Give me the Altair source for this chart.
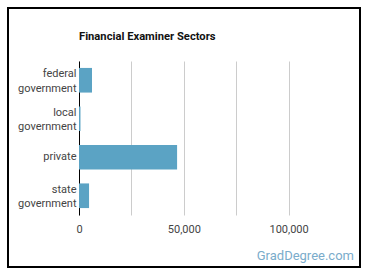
import altair as alt
import pandas as pd

sectors = ["federal government", "local government", "private", "state government"]
employees = [6200, 700, 46800, 4800]
grid_ticks = [0, 25000, 50000, 75000, 100000]

df = pd.DataFrame({"sector": sectors, "employees": employees})

base = alt.Chart(df)

bars = base.mark_bar(color="#5ba3c4").encode(
    y=alt.Y("sector:N", sort=sectors, title=None,
            scale=alt.Scale(paddingInner=0.36, paddingOuter=0.18),
            axis=alt.Axis(labelExpr="split(datum.label, ' ')", labelLineHeight=14.5,
                          labelOffset={"condition": {"test": "indexof(datum.label, ' ') < 0", "value": 0},
                                       "value": -6},
                          ticks=False, labelPadding=3, domainColor="#000000",
                          labelFontSize=11, labelColor="#444444", labelFont="Roboto")),
    x=alt.X("employees:Q", title=None,
            scale=alt.Scale(domain=[0, 125000], nice=False),
            axis=alt.Axis(values=grid_ticks,
                          labelExpr="datum.value % 50000 == 0 ? format(datum.value, ',') : ''",
                          ticks=False, domain=False, labelPadding=8, labelFlush=False,
                          gridColor="#cccccc", labelFontSize=11,
                          labelColor="#444444", labelFont="Roboto")),
)

border = alt.Chart(pd.DataFrame({"a": [0]})).mark_rect(
    fill=None, stroke="#000000", strokeWidth=2
).encode(x=alt.value(-71), x2=alt.value(281), y=alt.value(-53), y2=alt.value(206))

title = alt.Chart(pd.DataFrame({"t": ["Financial Examiner Sectors"]})).mark_text(
    align="left", baseline="middle", fontSize=11.2, fontWeight="bold", font="Roboto",
    color="#111111"
).encode(text="t:N", x=alt.value(0), y=alt.value(-24))

mark_text = alt.Chart(pd.DataFrame({"t": ["GradDegree.com"]})).mark_text(
    align="right", baseline="middle", fontSize=13, font="Roboto", color="#7aaccb"
).encode(text="t:N", x=alt.value(275), y=alt.value(195))

chart = alt.layer(bars, border, title, mark_text).properties(
    width=262, height=154,
    autosize=alt.AutoSizeParams(type="none"),
    padding={"left": 79, "top": 61, "right": 29, "bottom": 63},
).configure_view(stroke=None)

chart.save("out.html", embed_options={"renderer": "svg", "actions": False})
